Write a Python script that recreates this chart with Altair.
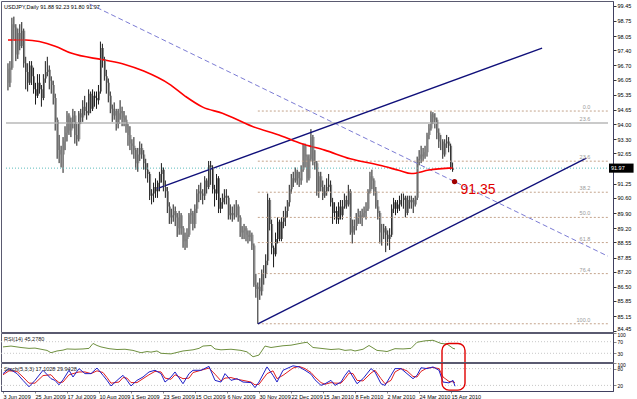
import altair as alt
import pandas as pd

# ---------------- data ----------------
# daily bars (open, high, low, close) USDJPY
jun_2009 = [(96.55,96.80,95.55,95.90),(95.90,96.90,95.70,96.60),(96.60,98.90,96.50,98.60),(98.60,98.95,97.90,98.45),
            (98.45,98.60,96.90,97.20),(97.20,98.40,97.00,98.20),(98.20,98.60,97.40,97.60),(97.60,98.70,97.50,98.30),
            (98.30,98.40,96.60,96.80),(96.80,97.10,95.60,96.40),(96.40,96.80,95.50,95.90),(95.90,96.90,95.80,96.70),
            (96.70,96.90,95.80,96.20),(96.20,96.60,95.40,95.60),(95.60,95.90,94.90,95.30),(95.30,96.30,95.20,95.90),
            (95.90,96.30,95.40,95.60),(95.60,95.80,94.80,95.20),(95.20,96.30,95.10,96.10),(96.10,96.90,95.90,96.40)]
jul_2009 = [(96.40,97.10,96.20,96.50),(96.50,96.70,95.60,96.00),(96.00,96.20,95.40,95.80),(95.80,96.00,94.90,95.20),
            (95.20,95.40,93.70,94.20),(94.20,94.30,92.40,92.80),(92.80,93.50,92.20,92.60),(92.60,93.00,92.00,92.60),
            (92.60,93.40,91.75,93.20),(93.20,93.90,92.80,93.60),(93.60,94.60,93.20,94.40),(94.40,94.50,93.50,93.70),
            (93.70,94.30,93.40,94.10),(94.10,94.70,93.80,94.40),(94.40,94.60,93.10,93.50),(93.50,94.00,93.00,93.30),
            (93.30,94.60,93.20,94.50),(94.50,94.70,94.00,94.30),(94.30,95.10,94.10,94.80),(94.80,95.30,94.40,94.60),
            (94.60,95.00,94.20,94.50),(94.50,95.60,94.40,95.40),(95.40,95.50,94.50,94.70)]
aug_2009 = [(94.70,95.60,94.60,95.30),(95.30,95.50,94.80,95.20),(95.20,95.50,94.70,95.10),(95.10,95.80,94.90,95.50),
            (95.50,97.80,95.40,97.50),(97.50,97.70,96.60,97.00),(97.00,97.10,96.00,96.20),(96.20,96.50,95.40,95.90),
            (95.90,96.10,95.00,95.30),(95.30,95.50,94.50,94.70),(94.70,94.90,94.10,94.40),(94.40,95.00,94.20,94.60),
            (94.60,94.70,93.70,94.00),(94.00,94.70,93.80,94.50),(94.50,95.10,94.20,94.60),(94.60,94.80,93.90,94.30),
            (94.30,94.60,93.90,94.20),(94.20,94.40,93.60,93.90),(93.90,94.00,93.00,93.50),(93.50,93.90,92.80,93.10),
            (93.10,93.30,92.60,93.00)]
sep_2009 = [(93.00,93.40,92.40,92.80),(92.80,92.90,91.90,92.20),(92.20,92.90,91.80,92.60),(92.60,93.20,92.30,92.90),
            (92.90,93.10,92.40,92.60),(92.60,92.80,91.90,92.20),(92.20,92.40,91.50,91.90),(91.90,92.20,91.30,91.70),
            (91.70,91.80,90.50,90.70),(90.70,91.00,90.30,90.80),(90.80,91.30,90.40,91.10),(91.10,91.50,90.60,90.90),
            (90.90,91.40,90.60,91.30),(91.30,91.80,90.90,91.70),(91.70,92.20,91.30,91.90),(91.90,92.00,90.90,91.10),
            (91.10,91.40,90.60,90.90),(90.90,91.10,89.90,90.20),(90.20,90.40,89.40,89.70),(89.70,90.10,89.40,89.80),
            (89.80,90.30,89.50,90.00),(90.00,90.20,89.30,89.70)]
oct_2009 = [(89.70,89.90,88.80,89.20),(89.20,90.00,88.90,89.80),(89.80,89.90,88.90,89.20),(89.20,89.30,88.30,88.60),
            (88.60,89.00,88.20,88.70),(88.70,89.20,88.30,88.90),(88.90,89.90,88.80,89.80),(89.80,90.10,89.40,89.90),
            (89.90,90.00,89.10,89.40),(89.40,90.30,89.20,90.10),(90.10,91.00,89.90,90.80),(90.80,91.20,90.40,90.90),
            (90.90,91.30,90.50,90.80),(90.80,91.00,90.30,90.70),(90.70,91.60,90.50,91.40),(91.40,91.50,90.80,91.10),
            (91.10,92.30,91.00,92.10),(92.10,92.30,91.20,92.00),(92.00,92.10,90.80,91.00),(91.00,91.20,90.20,90.80),
            (90.80,91.70,90.50,91.50),(91.50,91.60,89.90,90.10)]
nov_2009 = [(90.10,90.60,89.90,90.40),(90.40,90.80,90.10,90.60),(90.60,91.00,90.30,90.70),(90.70,91.00,90.30,90.60),
            (90.60,90.70,89.60,89.80),(89.80,90.30,89.60,89.90),(89.90,90.20,89.50,89.80),(89.80,90.30,89.60,89.80),
            (89.80,90.50,89.70,90.20),(90.20,90.30,89.50,89.70),(89.70,89.80,88.80,89.00),(89.00,89.30,88.70,89.10),
            (89.10,89.40,88.70,89.20),(89.20,89.30,88.60,88.90),(88.90,89.10,88.50,88.80),(88.80,89.10,88.60,88.90),
            (88.90,89.00,88.20,88.40),(88.40,88.50,86.50,86.60),(86.60,87.10,86.00,86.40),(86.40,86.70,84.80,86.50),
            (86.50,86.90,85.90,86.30)]
dec_2009 = [(86.30,87.30,86.10,87.10),(87.10,87.50,86.60,87.10),(87.10,88.00,86.90,87.70),(87.70,90.80,87.50,90.50),
            (90.50,90.60,89.10,89.40),(89.40,89.60,88.00,88.30),(88.30,88.40,87.40,88.00),(88.00,89.00,87.90,88.70),
            (88.70,89.70,88.50,89.50),(89.50,89.60,88.60,88.70),(88.70,89.70,88.60,89.50),(89.50,90.00,89.20,89.70),
            (89.70,90.20,89.30,90.00),(90.00,90.50,89.70,90.40),(90.40,91.20,90.20,91.00),(91.00,91.70,90.80,91.50),
            (91.50,91.80,91.10,91.40),(91.40,92.00,91.30,91.80),(91.80,91.90,91.20,91.50),(91.50,91.80,91.10,91.40),
            (91.40,92.10,91.20,91.90),(91.90,93.10,91.80,93.00)]
jan_2010 = [(93.00,93.10,92.00,92.50),(92.50,92.60,91.30,91.50),(91.50,92.60,91.40,92.40),(92.40,93.77,92.30,93.40),
            (93.40,93.50,92.10,92.30),(92.30,92.80,91.90,92.20),(92.20,92.30,90.70,90.90),(90.90,91.80,90.60,91.60),
            (91.60,91.80,90.90,91.10),(91.10,91.40,90.50,90.70),(90.70,91.20,90.60,90.90),(90.90,91.50,90.70,91.10),
            (91.10,91.70,90.90,91.20),(91.20,91.40,90.20,90.40),(90.40,90.60,89.40,89.90),(89.90,90.40,89.60,90.00),
            (90.00,90.20,89.40,89.60),(89.60,90.40,89.40,90.20),(90.20,90.50,89.60,89.80),(89.80,90.50,89.60,90.20)]
feb_2010 = [(90.20,90.80,90.10,90.50),(90.50,90.70,90.10,90.30),(90.30,91.20,90.20,90.90),(90.90,91.00,88.90,89.00),
            (89.00,89.60,88.50,89.30),(89.30,89.60,88.90,89.30),(89.30,89.90,89.10,89.70),(89.70,90.10,89.40,89.80),
            (89.80,90.00,89.40,89.70),(89.70,90.10,89.30,89.90),(89.90,90.20,89.70,90.00),(90.00,90.40,89.60,90.10),
            (90.10,91.00,90.00,90.90),(90.90,91.80,90.80,91.60),(91.60,91.90,91.00,91.40),(91.40,91.50,90.70,90.90),
            (90.90,91.10,90.10,90.20),(90.20,90.50,89.60,89.90),(89.90,90.00,88.50,89.00),(89.00,89.40,88.40,89.00)]
mar_2010 = [(89.00,89.40,88.70,89.20),(89.20,89.30,88.10,88.90),(88.90,89.10,88.40,88.70),(88.70,89.20,88.20,88.90),
            (88.90,90.30,88.80,90.10),(90.10,90.60,89.90,90.40),(90.40,90.50,89.80,90.10),(90.10,90.50,89.90,90.30),
            (90.30,90.70,90.00,90.50),(90.50,90.80,90.20,90.50),(90.50,90.80,90.10,90.60),(90.60,90.70,89.70,89.90),
            (89.90,90.70,89.80,90.50),(90.50,90.70,90.10,90.40),(90.40,90.70,90.10,90.50),(90.50,90.60,89.90,90.30),
            (90.30,90.70,90.20,90.60),(90.60,92.50,90.50,92.40),(92.40,92.80,92.10,92.60),(92.60,93.00,92.20,92.50),
            (92.50,92.90,92.30,92.70),(92.70,93.00,92.40,92.70),(92.70,93.60,92.50,93.50)]
apr_2010 = [(93.50,94.00,93.30,93.80),(93.80,94.60,93.70,94.45),(94.45,94.55,94.00,94.30),(94.30,94.50,93.80,94.20),
            (94.20,94.30,93.30,93.60),(93.60,93.80,92.90,93.20),(93.20,93.50,92.80,93.20),(93.20,93.30,92.40,92.60),
            (92.60,93.30,92.50,93.10),(93.10,93.50,92.90,93.20),(93.20,93.40,92.70,93.00),(93.00,93.10,91.90,92.00),
            (91.88,92.23,91.80,91.97)]

# 200-day moving average (read at sample bars)
ma_idx = [0, 9, 24, 32, 49, 59, 69, 82, 90, 99, 109, 124, 139, 149, 161, 174, 189, 199, 205, 214, 226]
ma_val = [97.87, 97.87, 97.59, 97.27, 96.95, 96.76, 96.44, 95.84, 95.29, 94.78, 94.50, 93.90, 93.45,
          93.10, 92.80, 92.40, 92.10, 91.86, 91.72, 91.88, 91.98]

# RSI(14)
rsi_idx = [0, 4, 9, 13, 16, 19, 22, 24, 27, 30, 32, 36, 40, 43, 45, 47, 49, 53, 57, 61, 65, 69, 72, 74, 77,
           79, 84, 87, 90, 95, 98, 100, 104, 106, 109, 114, 119, 122, 125, 128, 131, 134, 136, 140, 144,
           147, 150, 152, 155, 159, 164, 168, 171, 174, 176, 180, 183, 187, 190, 192, 196, 200, 204, 207,
           211, 215, 219, 222, 225, 226]
rsi_val = [52, 55, 50, 47, 48, 44, 40, 32, 38, 41, 45, 44, 45, 47, 64, 57, 52, 46, 43, 44, 40, 32, 36, 34, 38,
           30, 28, 33, 38, 42, 47, 55, 57, 45, 42, 44, 40, 35, 18, 24, 55, 50, 52, 56, 58, 62, 66, 68, 50,
           47, 43, 45, 40, 42, 38, 44, 57, 40, 38, 36, 46, 45, 47, 68, 73, 75, 64, 62, 47, 45.28]

# Stochastic(5,3,3)
st_idx = [0, 3, 7, 10, 13, 16, 20, 24, 26, 28, 30, 33, 35, 38, 41, 44, 47, 50, 52, 54, 58, 60, 62, 64, 67,
          70, 73, 76, 79, 81, 84, 86, 90, 93, 95, 99, 103, 106, 109, 111, 114, 117, 120, 124, 126, 128,
          132, 135, 137, 140, 145, 148, 151, 154, 156, 159, 161, 164, 166, 169, 171, 173, 175, 177, 180,
          184, 186, 189, 191, 194, 196, 199, 202, 205, 207, 209, 212, 215, 218, 220, 223, 225, 226]
st_main = [62, 80, 62, 38, 15, 38, 74, 44, 38, 22, 40, 74, 50, 80, 62, 62, 82, 56, 38, 18, 44, 56, 38, 18, 38,
           50, 68, 74, 62, 32, 50, 68, 26, 62, 74, 74, 88, 38, 32, 62, 38, 44, 32, 30, 12, 32, 86, 56, 32,
           74, 90, 86, 74, 60, 40, 20, 26, 38, 20, 32, 56, 74, 50, 26, 44, 80, 68, 26, 20, 56, 80, 80, 62,
           44, 56, 83, 80, 86, 74, 32, 29, 38, 17.10]
st_signal = [58, 72, 70, 50, 28, 28, 55, 58, 42, 30, 32, 58, 62, 68, 68, 62, 72, 66, 48, 28, 32, 48, 46, 30, 30,
             44, 58, 70, 68, 46, 42, 58, 44, 46, 66, 74, 82, 60, 36, 46, 48, 42, 38, 32, 22, 24, 62, 72, 44,
             56, 82, 88, 80, 66, 50, 30, 24, 30, 28, 28, 44, 64, 62, 38, 36, 64, 74, 44, 26, 38, 68, 80, 72,
             52, 50, 70, 82, 84, 80, 50, 34, 33, 29.94]

# Fibonacci retracement (Nov 2009 low -> Apr 2010 high)
fib_levels = ["0.0", "23.6", "38.2", "50.0", "61.8", "76.4", "100.0"]
fib_prices = [94.60, 92.29, 90.86, 89.70, 88.54, 87.11, 84.80]
fib_start = 127

hline_price = 94.05
hline_label = "23.6"
last_price = 91.97
target_price = 91.35
target_idx = 227

# trend lines (bar index, price)
upper_line = [(75.5, 91.01), (271.5, 97.50)]
lower_line = [(127, 84.79), (294, 92.43)]
dash_line = [(41.5, 99.53), (305, 87.91)]

date_labels = ["3 Jun 2009", "25 Jun 2009", "17 Jul 2009", "10 Aug 2009", "1 Sep 2009", "23 Sep 2009",
               "15 Oct 2009", "6 Nov 2009", "30 Nov 2009", "22 Dec 2009", "15 Jan 2010", "8 Feb 2010",
               "2 Mar 2010", "24 Mar 2010", "15 Apr 2010"]
price_ticks = [99.45, 98.75, 98.05, 97.40, 96.70, 96.05, 95.35, 94.65, 94.00, 93.30, 92.65, 91.25, 90.60,
               89.90, 89.20, 88.55, 87.85, 87.20, 86.50, 85.85, 85.15, 84.45]
rsi_ticks = [100, 70, 30]
stoch_ticks = [100, 80, 20]

title_text = "USDJPY,Daily  91.88 92.23 91.80 91.97"
rsi_text = "RSI(14) 45.2780"
stoch_text = "Stoch(5,3,3) 17.1028 29.9428"

# ---------------- build ----------------
FONT = "Liberation Sans"
months = [jun_2009, jul_2009, aug_2009, sep_2009, oct_2009, nov_2009, dec_2009, jan_2010, feb_2010, mar_2010, apr_2010]
bars = [b for m in months for b in m]
df = pd.DataFrame(bars, columns=["open", "high", "low", "close"])
df["i"] = list(range(len(df)))

W = 612
xs = alt.Scale(domain=[-1, 305], nice=False, zero=False)
ys = alt.Scale(domain=[84.42, 99.67], nice=False, zero=False)

yaxis = alt.Axis(orient="right", values=price_ticks, format=".2f", labelFontSize=5.5, labelFont=FONT,
                 labelColor="#000", tickSize=3, tickColor="#333", domainColor="#404060", grid=False,
                 labelPadding=1, labelOverlap=False, labelFlush=True, labelFlushOffset=0, title=None)


def X(field="i:Q"):
    return alt.X(field, scale=xs, axis=None)


def Y(field):
    return alt.Y(field, scale=ys, axis=yaxis)


wick = alt.Chart(df).mark_rule(color="#1a1a1a", strokeWidth=1).encode(
    x=X(), y=Y("low:Q"), y2="high:Q")
body = alt.Chart(df).mark_bar(color="#7a7a7a", width=1, xOffset=1).encode(
    x=X(), y=Y("open:Q"), y2="close:Q")

ma_df = pd.DataFrame({"i": ma_idx, "p": ma_val})
ma = alt.Chart(ma_df).mark_line(color="#ff0000", strokeWidth=1.6, interpolate="monotone").encode(
    x=X(), y=Y("p:Q"))

fib_df = pd.DataFrame({"lvl": fib_levels, "p": fib_prices, "x0": [fib_start] * len(fib_levels),
                       "x1": [305] * len(fib_levels), "xl": [296] * len(fib_levels)})
fib = alt.Chart(fib_df).mark_rule(color="#c4a48c", strokeDash=[2, 2], strokeWidth=1).encode(
    x=X("x0:Q"), x2="x1:Q", y=Y("p:Q"))
fib_txt = alt.Chart(fib_df).mark_text(align="right", baseline="bottom", dy=-1, fontSize=5.5, font=FONT,
                                      color="#9a9a9a").encode(
    x=X("xl:Q"), y=Y("p:Q"), text="lvl:N")

h_df = pd.DataFrame({"p": [hline_price], "x0": [-1], "x1": [305], "xl": [296], "t": [hline_label]})
hline = alt.Chart(h_df).mark_rule(color="#b9b9b9", strokeWidth=1.5).encode(
    x=X("x0:Q"), x2="x1:Q", y=Y("p:Q"))
h_txt = alt.Chart(h_df).mark_text(align="right", baseline="bottom", dy=-1, fontSize=5.5, font=FONT,
                                  color="#9a9a9a").encode(
    x=X("xl:Q"), y=Y("p:Q"), text="t:N")

cur_df = pd.DataFrame({"p": [last_price], "x0": [-1], "x1": [305], "b0": [305.5], "b1": [318],
                       "pt": [last_price + 0.21], "pb": [last_price - 0.21], "xt": [306.5],
                       "t": [f"{last_price:.2f}"]})
cur = alt.Chart(cur_df).mark_rule(color="#5cbcbc", strokeDash=[1, 2], strokeWidth=1).encode(
    x=X("x0:Q"), x2="x1:Q", y=Y("p:Q"))
cur_box = alt.Chart(cur_df).mark_rect(color="#000", clip=False).encode(
    x=X("b0:Q"), x2="b1:Q", y=Y("pt:Q"), y2="pb:Q")
cur_txt = alt.Chart(cur_df).mark_text(align="left", baseline="middle", fontSize=5.5, font=FONT,
                                      color="#fff", clip=False).encode(
    x=X("xt:Q"), y=Y("p:Q"), text="t:N")


def seg(pts, name):
    return pd.DataFrame({"i": [p[0] for p in pts], "p": [p[1] for p in pts], "n": [name] * len(pts)})


chan_df = pd.concat([seg(upper_line, "up"), seg(lower_line, "low")])
chan = alt.Chart(chan_df).mark_line(color="#10107a", strokeWidth=1.4).encode(
    x=X(), y=Y("p:Q"), detail="n:N")
dash = alt.Chart(seg(dash_line, "d")).mark_line(color="#7c7cd4", strokeWidth=1, strokeDash=[5, 3]).encode(
    x=X(), y=Y("p:Q"))

tgt_df = pd.DataFrame({"i": [target_idx], "p": [target_price], "t": [f"{target_price:.2f}"]})
tgt_pt = alt.Chart(tgt_df).mark_point(filled=True, color="#a00000", size=28, opacity=1).encode(
    x=X(), y=Y("p:Q"))
tgt_txt = alt.Chart(tgt_df).mark_text(align="left", baseline="middle", dx=6, dy=8, fontSize=14,
                                      font=FONT, color="#e00000").encode(
    x=X(), y=Y("p:Q"), text="t:N")

ttl = alt.Chart(pd.DataFrame({"t": [title_text]})).mark_text(
    align="left", baseline="middle", fontSize=5.5, font=FONT, color="#000").encode(
    x=alt.value(3), y=alt.value(6), text="t:N")

main = alt.layer(wick, hline, fib, cur, dash, chan, ma, body, fib_txt, h_txt, tgt_pt, tgt_txt, ttl,
                 cur_box, cur_txt).properties(width=W, height=331)

# ---- RSI panel ----
rs = alt.Scale(domain=[0, 100], nice=False, zero=False)
rsi_axis = alt.Axis(orient="right", values=rsi_ticks, labelFontSize=5, labelFont=FONT, labelColor="#000",
                    tickSize=3, domainColor="#404060", grid=False, labelPadding=1, labelOverlap=False,
                    labelFlush=True, labelFlushOffset=1, title=None)


def YR(field):
    return alt.Y(field, scale=rs, axis=rsi_axis)


rsi_df = pd.DataFrame({"i": rsi_idx, "v": rsi_val})
lv_df = pd.DataFrame({"v": [70, 30]})
rsi_lv = alt.Chart(lv_df).mark_rule(color="#c8c8c8", strokeDash=[1, 2]).encode(
    y=YR("v:Q"), x=alt.value(0), x2=alt.value(W))
rsi_line = alt.Chart(rsi_df).mark_line(color="#6f9040", strokeWidth=1).encode(
    x=X(), y=YR("v:Q"))
box_r = pd.DataFrame({"a": [219.5], "b": [231], "t": [64], "u": [-40]})
rsi_box = alt.Chart(box_r).mark_rect(fill="transparent", stroke="#e00000", strokeWidth=1.4, cornerRadius=7,
                                     clip=True).encode(
    x=X("a:Q"), x2="b:Q", y=YR("t:Q"), y2="u:Q")
rsi_lab = alt.Chart(pd.DataFrame({"t": [rsi_text]})).mark_text(
    align="left", baseline="middle", fontSize=5.5, font=FONT, color="#222").encode(
    x=alt.value(3), y=alt.value(6), text="t:N")
rsi = alt.layer(rsi_lv, rsi_line, rsi_box, rsi_lab).properties(width=W, height=29)

# ---- Stochastic panel ----
ss = alt.Scale(domain=[0, 100], nice=False, zero=False)
st_axis = alt.Axis(orient="right", values=stoch_ticks, labelFontSize=5, labelFont=FONT, labelColor="#000",
                   tickSize=3, domainColor="#404060", grid=False, labelPadding=1, labelOverlap=False,
                   labelFlush=True, labelFlushOffset=1, title=None)
xaxis = alt.Axis(orient="bottom", values=[16 * k for k in range(len(date_labels))],
                 labelExpr="[" + ",".join("'" + s + "'" for s in date_labels) + "][round(datum.value/16)]",
                 labelAlign="left", labelFontSize=5.5, labelFont=FONT, labelColor="#000", tickSize=2,
                 labelPadding=1, grid=False, domainColor="#404060", labelOverlap=False, title=None)


def XS(field="i:Q"):
    return alt.X(field, scale=xs, axis=xaxis)


def YS(field):
    return alt.Y(field, scale=ss, axis=st_axis)


st_df = pd.DataFrame({"i": st_idx, "m": st_main, "s": st_signal})
slv_df = pd.DataFrame({"v": [80, 20]})
st_lv = alt.Chart(slv_df).mark_rule(color="#c8c8c8", strokeDash=[1, 2]).encode(
    y=YS("v:Q"), x=alt.value(0), x2=alt.value(W))
st_sig = alt.Chart(st_df).mark_line(color="#e02020", strokeWidth=1).encode(
    x=XS(), y=YS("s:Q"))
st_main_l = alt.Chart(st_df).mark_line(color="#2020c8", strokeWidth=1).encode(
    x=XS(), y=YS("m:Q"))
box_s = pd.DataFrame({"a": [219.5], "b": [231], "t": [140], "u": [3]})
st_box = alt.Chart(box_s).mark_rect(fill="transparent", stroke="#e00000", strokeWidth=1.4, cornerRadius=7,
                                    clip=True).encode(
    x=XS("a:Q"), x2="b:Q", y=YS("t:Q"), y2="u:Q")
st_lab = alt.Chart(pd.DataFrame({"t": [stoch_text]})).mark_text(
    align="left", baseline="middle", fontSize=5.5, font=FONT, color="#222").encode(
    x=alt.value(3), y=alt.value(6), text="t:N")
stoch = alt.layer(st_lv, st_sig, st_main_l, st_box, st_lab).properties(width=W, height=28)

chart = alt.vconcat(main, rsi, stoch, spacing=1, bounds="flush").properties(
    padding={"left": 0, "top": 0, "right": 0, "bottom": 9}, background="white"
).configure_view(stroke="#5a5a70", strokeWidth=1)

chart.save("out.html", embed_options={"renderer": "svg", "actions": False})
